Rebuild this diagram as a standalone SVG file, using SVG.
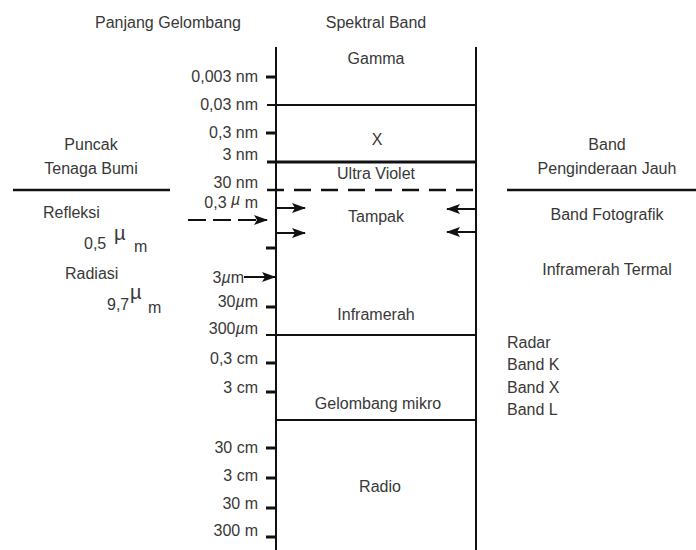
<svg xmlns="http://www.w3.org/2000/svg" width="696" height="550" viewBox="0 0 696 550">
<style>
text{font-family:"Liberation Sans",Arial,sans-serif;font-size:16px;fill:#383838}
.c{text-anchor:middle}
.e{text-anchor:end}
.ln{stroke:#111;stroke-width:2;fill:none}
.tk{stroke:#111;stroke-width:3;fill:none}
.mu{font-style:italic}
</style>
<defs>
<marker id="ah" markerUnits="userSpaceOnUse" markerWidth="14" markerHeight="10" refX="13" refY="5" orient="auto">
<path d="M0,0 L14,5 L0,10 L3,5 Z" fill="#111"/>
</marker>
</defs>
<rect width="696" height="550" fill="#fff"/>
<g id="headers">
<text class="c" x="168" y="28">Panjang Gelombang</text>
<text class="c" x="376" y="28">Spektral Band</text>
</g>
<g id="connectors">
<line class="ln" x1="276" y1="47" x2="276" y2="550"/>
<line class="ln" x1="476" y1="47" x2="476" y2="550"/>
<line class="ln" x1="267" y1="105" x2="476" y2="105"/>
<line class="ln" x1="267" y1="162" x2="476" y2="162" style="stroke-width:3"/>
<line class="ln" x1="267" y1="190" x2="476" y2="190" style="stroke-width:2.5" stroke-dasharray="17 10"/>
<line class="ln" x1="266" y1="335" x2="476" y2="335"/>
<line class="ln" x1="276" y1="420" x2="476" y2="420"/>
<line class="ln" x1="13" y1="190" x2="170" y2="190" style="stroke-width:2.5"/>
<line class="ln" x1="507" y1="190" x2="696" y2="190" style="stroke-width:2.5"/>
<g id="ticks">
<line class="tk" x1="266" y1="77" x2="276" y2="77"/>
<line class="tk" x1="266" y1="133" x2="276" y2="133"/>
<line class="tk" x1="266" y1="248" x2="276" y2="248"/>
<line class="tk" x1="266" y1="307" x2="276" y2="307"/>
<line class="tk" x1="266" y1="363" x2="276" y2="363"/>
<line class="tk" x1="266" y1="392" x2="276" y2="392"/>
<line class="tk" x1="266" y1="448" x2="276" y2="448"/>
<line class="tk" x1="266" y1="478" x2="276" y2="478"/>
<line class="tk" x1="266" y1="508" x2="276" y2="508"/>
<line class="tk" x1="266" y1="537" x2="276" y2="537"/>
</g>
<line class="ln" x1="277" y1="208" x2="305" y2="208" marker-end="url(#ah)"/>
<line class="ln" x1="277" y1="233" x2="305" y2="233" marker-end="url(#ah)"/>
<line class="ln" x1="475" y1="209" x2="447" y2="209" marker-end="url(#ah)"/>
<line class="ln" x1="475" y1="232" x2="447" y2="232" marker-end="url(#ah)"/>
<line class="ln" x1="188" y1="220" x2="267" y2="220" stroke-dasharray="18 7" marker-end="url(#ah)"/>
<line class="ln" x1="244" y1="277" x2="275" y2="277" marker-end="url(#ah)"/>
</g>
<g id="wavelengths">
<text class="e" x="258" y="82">0,003 nm</text>
<text class="e" x="258" y="110">0,03 nm</text>
<text class="e" x="258" y="138">0,3 nm</text>
<text class="e" x="258" y="160">3 nm</text>
<text class="e" x="258" y="188">30 nm</text>
<text class="e" x="258" y="208">0,3 <tspan class="mu" dy="-3">µ</tspan><tspan dy="3"> m</tspan></text>
<text class="e" x="244" y="283">3<tspan class="mu">µ</tspan>m</text>
<text class="e" x="258" y="307">30<tspan class="mu">µ</tspan>m</text>
<text class="e" x="258" y="334">300<tspan class="mu">µ</tspan>m</text>
<text class="e" x="258" y="364">0,3 cm</text>
<text class="e" x="258" y="393">3 cm</text>
<text class="e" x="258" y="453">30 cm</text>
<text class="e" x="258" y="481">3 cm</text>
<text class="e" x="258" y="509">30 m</text>
<text class="e" x="258" y="536">300 m</text>
</g>
<g id="bands">
<text class="c" x="376" y="64">Gamma</text>
<text class="c" x="377" y="145">X</text>
<text class="c" x="376" y="179">Ultra Violet</text>
<text class="c" x="376" y="222">Tampak</text>
<text class="c" x="376" y="320">Inframerah</text>
<text class="c" x="378" y="409">Gelombang mikro</text>
<text class="c" x="380" y="492">Radio</text>
</g>
<g id="puncak">
<text class="c" x="91" y="150">Puncak</text>
<text class="c" x="91" y="174">Tenaga Bumi</text>
<text x="43" y="218">Refleksi</text>
<text x="84" y="249">0,5</text>
<text x="114" y="240" style="font-size:20px">µ</text>
<text x="134" y="252">m</text>
<text x="65" y="279">Radiasi</text>
<text x="107" y="310">9,7</text>
<text x="130" y="299" style="font-size:20px">µ</text>
<text x="148" y="313">m</text>
</g>
<g id="penginderaan">
<text class="c" x="607" y="150">Band</text>
<text class="c" x="607" y="174">Penginderaan Jauh</text>
<text class="c" x="607" y="220">Band Fotografik</text>
<text class="c" x="607" y="275">Inframerah Termal</text>
<text x="507" y="348">Radar</text>
<text x="507" y="370">Band K</text>
<text x="507" y="393">Band X</text>
<text x="507" y="415">Band L</text>
</g>
</svg>
